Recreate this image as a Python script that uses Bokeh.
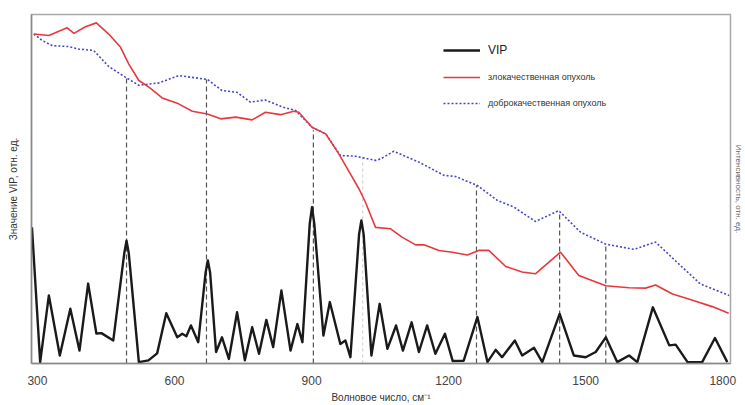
from bokeh.plotting import figure
from bokeh.models import Legend, LegendItem, Range1d, FixedTicker, LinearAxis
from bokeh.embed import file_html
from bokeh.resources import INLINE

# VIP curve (wavenumber, value in relative units 0..100)
vip_x = [288, 306, 325, 349, 372, 392, 411, 429, 440, 466, 490, 495, 500, 522, 543, 562, 582, 606, 617, 626, 636, 652,
         668, 673, 678, 691, 704, 719, 737, 754, 770, 785, 801, 816, 834, 854, 869, 880, 896, 901, 906, 926, 940, 963,
         974, 985, 1004, 1009, 1014, 1031, 1049, 1066, 1085, 1100, 1119, 1135, 1153, 1171, 1192, 1209, 1233, 1263,
         1285, 1303, 1317, 1345, 1361, 1387, 1405, 1443, 1474, 1500, 1522, 1544, 1569, 1595, 1613, 1647, 1683, 1697,
         1723, 1755, 1783, 1810]
vip_y = [39, 0.4, 19.5, 2.3, 15.7, 3.7, 22.9, 8.6, 8.7, 6.6, 31.5, 35.2, 31.5, 0.4, 0.9, 2.9, 14.4, 7.5, 8.5, 7.8, 10.9,
         6.1, 26.0, 29.5, 26.0, 3.3, 7.5, 1.3, 14.7, 0.9, 10.4, 2.8, 12.5, 4.7, 20.9, 3.7, 11.3, 6.1, 40.0, 44.8,
         40.0, 8.0, 17.6, 5.6, 6.6, 1.8, 37.0, 41, 37.0, 2.3, 17.1, 4.2, 10.9, 3.7, 11.8, 3.3, 10.9, 2.8, 8.5, 0.7,
         0.8, 13.3, 0.4, 3.9, 1.8, 6.6, 2.3, 4.5, 0.4, 14.2, 2.3, 1.8, 3.3, 7.5, 0.4, 2.3, 0.4, 16.1, 5.2, 5.4, 0.4,
         0.4, 7.3, 0.4]

# malignant tumour mean spectrum
mal_x = [292, 325, 365, 380, 405, 429, 456, 482, 500, 522, 544, 573, 609, 639, 672, 701, 734, 770, 799, 832,
         861, 872, 901, 931, 960, 989, 1004, 1018, 1040, 1073, 1098, 1128, 1146, 1179, 1208, 1241, 1266, 1288,
         1325, 1361, 1390, 1419, 1445, 1485, 1544, 1595, 1631, 1653, 1690, 1734, 1777, 1813]
mal_y = [94.4, 94.0, 96.2, 94.6, 96.5, 97.6, 94.4, 90.6, 85.8, 81.1, 79.2, 76.1, 74.4, 72.3, 71.5, 70.1, 70.6,
         69.8, 72.0, 71.3, 72.3, 72.0, 67.7, 65.8, 60.0, 53.4, 50.0, 46.2, 39.0, 38.6, 36.2, 34.0, 34.0, 32.4,
         31.9, 31.1, 32.4, 32.4, 27.8, 26.2, 25.7, 29.0, 31.9, 25.2, 22.3, 21.7, 21.6, 22.5, 19.9, 18.1, 16.3, 14.4]

# benign tumour mean spectrum
ben_x = [292, 310, 332, 369, 390, 423, 456, 493, 522, 566, 609, 672, 704, 737, 766, 799, 836, 865, 901, 931,
         963, 996, 1040, 1051, 1080, 1135, 1190, 1215, 1263, 1307, 1343, 1390, 1441, 1489, 1544, 1606, 1653,
         1700, 1751, 1814]
ben_y = [94.4, 92.6, 91.1, 90.8, 90.1, 89.7, 85.1, 82.0, 79.7, 80.4, 82.5, 81.4, 78.2, 77.7, 74.9, 75.5, 73.5,
         72.5, 67.7, 65.8, 59.6, 59.4, 58.2, 58.6, 60.8, 57.7, 53.9, 53.6, 51.0, 46.7, 44.8, 40.7, 43.8, 37.6,
         34.2, 32.7, 34.8, 29.0, 22.8, 19.5]

# marked wavenumbers and the top of each marker line
mark_x = [495, 670, 904, 1261, 1443, 1544]
mark_top = [82.0, 81.4, 66.8, 51.0, 43.0, 33.8]
faint_x = [1012]
faint_top = [59.6]

x_ticks = [300, 600, 900, 1200, 1500, 1800]

FONT = "Liberation Sans"

p = figure(width=745, height=405, output_backend="svg", toolbar_location=None,
           x_range=Range1d(287, 1817), y_range=Range1d(0, 100),
           min_border_left=31, min_border_right=15, min_border_top=14, min_border_bottom=42)
p.background_fill_color = "white"
p.border_fill_color = "white"
p.outline_line_color = "#a8a8a8"
p.outline_line_width = 1.5
p.grid.visible = False

# marker lines
p.segment(x0=mark_x, y0=[0] * len(mark_x), x1=mark_x, y1=mark_top,
          line_color="#555555", line_width=1.2, line_dash="5 3")
p.segment(x0=faint_x, y0=[0] * len(faint_x), x1=faint_x, y1=faint_top,
          line_color="#c8c8c8", line_width=1, line_dash="3 3")

r_ben = p.line(ben_x, ben_y, line_color="#4646c8", line_width=1.6, line_dash="2 2")
r_mal = p.line(mal_x, mal_y, line_color="#e8383d", line_width=1.6)
r_vip = p.line(vip_x, vip_y, line_color="#1a1a1a", line_width=2.4, line_join="round")

# axes
p.xaxis.ticker = FixedTicker(ticks=x_ticks)
p.xaxis.major_tick_line_color = None
p.xaxis.minor_tick_line_color = None
p.xaxis.axis_line_color = "#888888"
p.xaxis.axis_line_width = 1.5
p.xaxis.major_label_text_font = FONT
p.xaxis.major_label_text_font_size = "12px"
p.xaxis.major_label_text_color = "#444444"
p.xaxis.major_label_standoff = 6
p.xaxis.axis_label = "Волновое число, см⁻¹"
p.xaxis.axis_label_text_font = FONT
p.xaxis.axis_label_text_font_size = "10px"
p.xaxis.axis_label_text_font_style = "normal"
p.xaxis.axis_label_text_color = "#333333"
p.xaxis.axis_label_standoff = 4

p.yaxis.ticker = FixedTicker(ticks=[])
p.yaxis.major_tick_line_color = None
p.yaxis.minor_tick_line_color = None
p.yaxis.axis_line_color = "#888888"
p.yaxis.axis_line_width = 1.5
p.yaxis.major_label_text_font_size = "0px"
p.yaxis.axis_label = "Значение VIP, отн. ед."
p.yaxis.axis_label_text_font = FONT
p.yaxis.axis_label_text_font_size = "10px"
p.yaxis.axis_label_text_font_style = "normal"
p.yaxis.axis_label_text_color = "#333333"
p.yaxis.axis_label_standoff = 13

# right-side intensity axis label
right_axis = LinearAxis(ticker=FixedTicker(ticks=[]), axis_line_color=None,
                        major_tick_line_color=None, minor_tick_line_color=None,
                        major_label_text_font_size="0px",
                        axis_label="Интенсивность, отн. ед.", axis_label_text_font=FONT,
                        axis_label_text_font_size="8px", axis_label_text_font_style="normal",
                        axis_label_text_color="#666666", axis_label_standoff=3)
p.add_layout(right_axis, "right")

leg1 = Legend(items=[LegendItem(label="VIP", renderers=[r_vip])],
              location=(412, 306), margin=0, padding=0, border_line_color=None,
              background_fill_alpha=0, glyph_width=37, glyph_height=14, label_height=14,
              label_standoff=8, label_text_font=FONT, label_text_font_size="12px",
              label_text_color="#222222")
leg2 = Legend(items=[LegendItem(label="злокачественная опухоль", renderers=[r_mal]),
                     LegendItem(label="доброкачественная опухоль", renderers=[r_ben])],
              location=(412, 254), margin=0, padding=0, border_line_color=None,
              background_fill_alpha=0, glyph_width=37, glyph_height=12, label_height=12,
              spacing=14, label_standoff=8, label_text_font=FONT, label_text_font_size="9px",
              label_text_color="#333333")
p.add_layout(leg1, "center")
p.add_layout(leg2, "center")

open("out.html", "w").write(file_html(p, INLINE))
